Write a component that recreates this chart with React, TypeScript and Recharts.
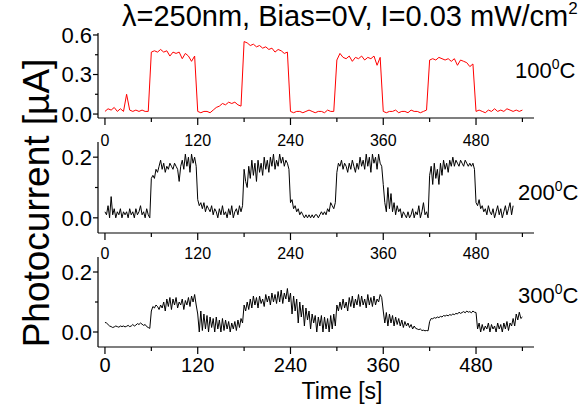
import { Line, LineChart, XAxis, YAxis } from 'recharts';

// 100 °C trace sampled every 4 s, the two hotter traces every 2 s.
// One line per 60 s (UV on / off) segment.
const STEP_100C = 4;
const STEP_HOT = 2;

const current100C = [
  0.02, 0.04, 0.03, 0.05, 0.02, 0.04, 0.02, 0.15, 0.03, 0.02, 0.03, 0.02, 0.03, 0.02, 0.02,
  0.47, 0.48, 0.47, 0.49, 0.47, 0.48, 0.44, 0.47, 0.46, 0.47, 0.42, 0.46, 0.44, 0.4, 0.44,
  0.02, 0.01, 0.02, 0.02, 0.01, 0.03, 0.05, 0.06, 0.08, 0.07, 0.09, 0.08, 0.09, 0.07, 0.06,
  0.55, 0.54, 0.52, 0.53, 0.51, 0.52, 0.5, 0.51, 0.49, 0.5, 0.47, 0.49, 0.48, 0.46, 0.47,
  0.02, 0.01, 0.02, 0.02, 0.01, 0.02, 0.03, 0.02, 0.01, 0.02, 0.02, 0.01, 0.03, 0.02, 0.02,
  0.41, 0.46, 0.43, 0.42, 0.44, 0.4, 0.43, 0.42, 0.44, 0.41, 0.43, 0.42, 0.44, 0.37, 0.43,
  0.02, 0.01, 0.02, 0.02, 0.03, 0.01, 0.02, 0.02, 0.01, 0.03, 0.02, 0.02, 0.01, 0.02, 0.03,
  0.41, 0.42, 0.41, 0.43, 0.42, 0.41, 0.42, 0.4, 0.42, 0.37, 0.41, 0.4, 0.39, 0.36, 0.38,
  0.02, 0.03, 0.02, 0.01, 0.03, 0.02, 0.04, 0.02, 0.03, 0.02, 0.04, 0.03, 0.02, 0.03, 0.02, 0.03,
];

const current200C = [
  0.02, 0.01, 0.04, 0.0, 0.07, 0.01, 0.03, 0.0, 0.02, 0.01, 0.03, 0.0, 0.02, 0.01, 0.02, 0.0, 0.03, 0.01, 0.02, 0.0, 0.03, 0.01, 0.02, 0.04, 0.01, 0.02, 0.0, 0.03, 0.01, 0.0,
  0.13, 0.14, 0.13, 0.16, 0.15, 0.17, 0.19, 0.16, 0.18, 0.15, 0.17, 0.16, 0.18, 0.17, 0.16, 0.18, 0.17, 0.16, 0.12, 0.17, 0.19, 0.16, 0.21, 0.17, 0.2, 0.15, 0.21, 0.18, 0.2, 0.17,
  0.06, 0.04, 0.05, 0.03, 0.05, 0.02, 0.04, 0.03, 0.02, 0.04, 0.01, 0.03, 0.02, 0.0, 0.03, 0.01, 0.04, 0.01, 0.02, 0.0, 0.03, 0.01, 0.04, 0.0, 0.02, 0.03, 0.01, 0.04, 0.02, 0.04,
  0.16, 0.12, 0.1, 0.17, 0.13, 0.19, 0.14, 0.18, 0.12, 0.19, 0.15, 0.18, 0.14, 0.2, 0.16, 0.19, 0.15, 0.2, 0.17, 0.21, 0.16, 0.19, 0.17, 0.21, 0.18, 0.2, 0.17, 0.19, 0.18, 0.16,
  0.05, 0.06, 0.03, 0.04, 0.02, 0.03, 0.01, 0.02, 0.01, 0.0, 0.01, 0.0, 0.01, 0.0, 0.01, 0.0, 0.01, 0.01, 0.0, 0.01, 0.02, 0.01, 0.02, 0.01, 0.03, 0.02, 0.05, 0.04, 0.03, 0.05,
  0.15, 0.18, 0.17, 0.19, 0.16, 0.18, 0.17, 0.15, 0.18, 0.16, 0.19, 0.17, 0.15, 0.18, 0.16, 0.2, 0.17, 0.19, 0.16, 0.21, 0.17, 0.2, 0.15, 0.21, 0.18, 0.2, 0.16, 0.21, 0.18, 0.17,
  0.11, 0.05, 0.02, 0.1, 0.03, 0.08, 0.02, 0.05, 0.01, 0.04, 0.02, 0.03, 0.0, 0.02, 0.01, 0.0, 0.02, 0.0, 0.01, 0.03, 0.0, 0.02, 0.01, 0.04, 0.0, 0.02, 0.05, 0.01, 0.02, 0.0,
  0.14, 0.17, 0.11, 0.18, 0.13, 0.16, 0.11, 0.18, 0.14, 0.19, 0.16, 0.18, 0.15, 0.19, 0.17, 0.2, 0.17, 0.19, 0.18, 0.17, 0.19, 0.18, 0.17, 0.19, 0.18, 0.17, 0.18, 0.17, 0.18, 0.16,
  0.05, 0.04, 0.06, 0.03, 0.04, 0.02, 0.03, 0.01, 0.04, 0.02, 0.01, 0.03, 0.0, 0.02, 0.04, 0.01, 0.03, 0.0, 0.02, 0.04, 0.01, 0.03, 0.05, 0.01, 0.04,
];

const current300C = [
  0.032, 0.03, 0.025, 0.02, 0.018, 0.015, 0.017, 0.02, 0.018, 0.016, 0.02, 0.018, 0.02, 0.017, 0.019, 0.022, 0.018, 0.02, 0.025, 0.02, 0.023, 0.028, 0.025, 0.03, 0.026, 0.022, 0.025, 0.018, 0.015, 0.012,
  0.07, 0.085, 0.08, 0.09, 0.085, 0.075, 0.09, 0.08, 0.1, 0.07, 0.11, 0.085, 0.115, 0.075, 0.11, 0.09, 0.115, 0.08, 0.1, 0.09, 0.11, 0.075, 0.105, 0.09, 0.115, 0.085, 0.12, 0.1, 0.125, 0.09,
  0.06, 0.0, 0.07, 0.005, 0.06, 0.01, 0.055, 0.0, 0.05, 0.015, 0.045, 0.0, 0.05, 0.01, 0.04, 0.0, 0.045, 0.005, 0.04, 0.01, 0.035, 0.0, 0.03, 0.01, 0.035, 0.005, 0.04, 0.015, 0.045, 0.03,
  0.09, 0.07, 0.1, 0.075, 0.11, 0.08, 0.12, 0.09, 0.115, 0.08, 0.12, 0.095, 0.11, 0.085, 0.125, 0.1, 0.12, 0.09, 0.13, 0.1, 0.125, 0.095, 0.135, 0.1, 0.14, 0.095, 0.13, 0.11, 0.145, 0.1,
  0.13, 0.06, 0.12, 0.07, 0.11, 0.03, 0.1, 0.05, 0.09, 0.02, 0.08, 0.04, 0.07, 0.01, 0.06, 0.03, 0.055, 0.0, 0.05, 0.02, 0.055, 0.0, 0.05, 0.01, 0.045, 0.0, 0.055, 0.01, 0.06, 0.02,
  0.09, 0.07, 0.1, 0.075, 0.11, 0.08, 0.1, 0.07, 0.115, 0.085, 0.12, 0.08, 0.11, 0.09, 0.125, 0.085, 0.12, 0.09, 0.11, 0.08, 0.125, 0.09, 0.115, 0.085, 0.12, 0.09, 0.11, 0.1, 0.125, 0.115,
  0.07, 0.03, 0.065, 0.02, 0.06, 0.03, 0.055, 0.02, 0.05, 0.025, 0.045, 0.02, 0.04, 0.015, 0.035, 0.02, 0.03, 0.015, 0.025, 0.01, 0.02, 0.012, 0.01, 0.008, 0.01, 0.005, 0.006, 0.004, 0.005, 0.004,
  0.035, 0.045, 0.044, 0.048, 0.046, 0.05, 0.048, 0.052, 0.05, 0.055, 0.053, 0.056, 0.054, 0.058, 0.056, 0.06, 0.058, 0.062, 0.06, 0.066, 0.062, 0.065, 0.068, 0.064, 0.07, 0.066, 0.068, 0.064, 0.07, 0.066,
  0.065, 0.01, 0.03, 0.0, 0.025, 0.005, 0.02, 0.01, 0.03, 0.0, 0.025, 0.01, 0.02, 0.0, 0.03, 0.01, 0.025, 0.0, 0.03, 0.01, 0.035, 0.005, 0.03, 0.02, 0.045, 0.02, 0.06, 0.04, 0.066, 0.045, 0.05,
];

const timeTicks = [0, 60, 120, 180, 240, 300, 360, 420, 480, 540];
const timeLabels = [0, 120, 240, 360, 480];
const ticks100C = [0, 0.15, 0.3, 0.45, 0.6];
const labels100C = [0, 0.3, 0.6];
const ticksHot = [0, 0.1, 0.2];
const labelsHot = [0, 0.2];

const FONT = '"Liberation Sans", Arial, Helvetica, sans-serif';
const AXIS = { stroke: '#000', strokeWidth: 1.2 };

const toRows = (values: number[], step: number) => values.map((v, i) => ({ t: i * step, v }));

function XTick(props: any) {
  const { x, y, payload, size, gap } = props;
  const major = timeLabels.includes(payload.value);
  return (
    <g>
      <line x1={x} x2={x} y1={y} y2={y + (major ? 7 : 4)} stroke="#000" strokeWidth={1.2} />
      {major && (
        <text x={x} y={y + gap} dy="0.71em" textAnchor="middle" fontSize={size} fontFamily={FONT} fill="#000">
          {payload.value}
        </text>
      )}
    </g>
  );
}

function YTick(props: any) {
  const { x, y, payload, labels } = props;
  const major = labels.includes(payload.value);
  return (
    <g>
      <line x1={x - (major ? 5 : 3)} x2={x} y1={y} y2={y} stroke="#000" strokeWidth={1.2} />
      {major && (
        <text x={x - 6} y={y} dy="0.36em" textAnchor="end" fontSize={22} fontFamily={FONT} fill="#000">
          {payload.value.toFixed(1)}
        </text>
      )}
    </g>
  );
}

function Panel(props: any) {
  const { top, height, margin, xHeight, values, step, color, yDomain, yTicks, yLabels, xSize, xGap } = props;
  return (
    <div style={{ position: 'absolute', left: 0, top }}>
      <LineChart width={587} height={height} data={toRows(values, step)} margin={margin}>
        <XAxis
          dataKey="t"
          type="number"
          domain={[-9, 555]}
          ticks={timeTicks}
          interval={0}
          allowDataOverflow
          height={xHeight}
          axisLine={AXIS}
          tickLine={false}
          tickSize={0}
          tickMargin={0}
          tick={(p: any) => <XTick {...p} size={xSize} gap={xGap} />}
        />
        <YAxis
          type="number"
          domain={yDomain}
          ticks={yTicks}
          interval={0}
          allowDataOverflow
          width={98}
          axisLine={AXIS}
          tickLine={false}
          tickSize={0}
          tickMargin={0}
          tick={(p: any) => <YTick {...p} labels={yLabels} />}
        />
        <Line type="linear" dataKey="v" stroke={color} strokeWidth={1} dot={false} isAnimationActive={false} />
      </LineChart>
    </div>
  );
}

export default function App() {
  return (
    <div style={{ position: 'absolute', left: 0, top: 0, width: 587, height: 407, background: '#fff', fontFamily: FONT }}>
      <Panel
        top={0}
        height={150}
        margin={{ top: 33, right: 53, bottom: 2, left: 0 }}
        xHeight={30}
        values={current100C}
        step={STEP_100C}
        color="#ff0000"
        yDomain={[-0.03, 0.615]}
        yTicks={ticks100C}
        yLabels={labels100C}
        xSize={16}
        xGap={17}
      />
      <Panel
        top={120}
        height={150}
        margin={{ top: 22, right: 53, bottom: 7, left: 0 }}
        xHeight={30}
        values={current200C}
        step={STEP_HOT}
        color="#000"
        yDomain={[-0.05, 0.25]}
        yTicks={ticksHot}
        yLabels={labelsHot}
        xSize={16}
        xGap={15}
      />
      <Panel
        top={235}
        height={172}
        margin={{ top: 22, right: 53, bottom: 20, left: 0 }}
        xHeight={40}
        values={current300C}
        step={STEP_HOT}
        color="#000"
        yDomain={[-0.05, 0.25]}
        yTicks={ticksHot}
        yLabels={labelsHot}
        xSize={20}
        xGap={11}
      />
      <svg width={587} height={407} style={{ position: 'absolute', left: 0, top: 0, pointerEvents: 'none' }} fontFamily={FONT} fill="#000">
        <text x={122} y={26} fontSize={29}>
          λ=250nm, Bias=0V, I=0.03 mW/cm
          <tspan dy={-12} fontSize={17}>2</tspan>
        </text>
        <text transform="translate(49,203) rotate(-90)" textAnchor="middle" fontSize={37}>
          Photocurrent [µA]
        </text>
        <text x={515} y={78} fontSize={22}>
          100<tspan dy={-9} fontSize={14}>0</tspan>
          <tspan dy={9}>C</tspan>
        </text>
        <text x={518} y={200} fontSize={22}>
          200<tspan dy={-9} fontSize={14}>0</tspan>
          <tspan dy={9}>C</tspan>
        </text>
        <text x={518} y={303} fontSize={22}>
          300<tspan dy={-9} fontSize={14}>0</tspan>
          <tspan dy={9}>C</tspan>
        </text>
        <text x={342} y={399} textAnchor="middle" fontSize={23}>
          Time [s]
        </text>
      </svg>
    </div>
  );
}
